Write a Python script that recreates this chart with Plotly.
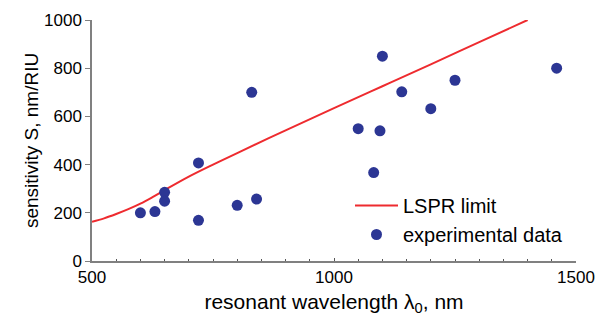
import plotly.graph_objects as go

# Experimental data (resonant wavelength, nm ; sensitivity, nm/RIU)
exp_wavelength = [600, 630, 650, 650, 720, 720, 800, 840, 830,
                  1050, 1082, 1095, 1100, 1140, 1200, 1250, 1460]
exp_sensitivity = [200, 205, 285, 248, 407, 169, 231, 257, 700,
                   549, 367, 540, 850, 702, 632, 750, 800]

# LSPR limit curve
lspr_wavelength = [500, 525, 550, 575, 600, 625, 650, 700, 750, 800,
                   900, 1000, 1100, 1200, 1300, 1400]
lspr_sensitivity = [163, 177, 195, 215, 238, 265, 294, 350, 400, 448,
                    542, 634, 725, 816, 908, 1000]

x_tick_vals = [500, 1000, 1500]
y_tick_vals = [0, 200, 400, 600, 800, 1000]

FONT = "Liberation Sans, Arial, Helvetica, sans-serif"
AXIS_COLOR = "#808080"

fig = go.Figure()
fig.add_trace(go.Scatter(
    x=lspr_wavelength, y=lspr_sensitivity, mode="lines",
    line=dict(color="#ee2b2f", width=2, shape="spline", smoothing=1.0),
    name="LSPR limit",
))
fig.add_trace(go.Scatter(
    x=exp_wavelength, y=exp_sensitivity, mode="markers",
    marker=dict(color="#2c3694", size=11),
    name="experimental data",
))

fig.update_layout(
    width=600, height=312,
    margin=dict(l=84, r=32, t=12, b=59),
    paper_bgcolor="white", plot_bgcolor="white",
    font=dict(family=FONT, color="black", size=17),
    showlegend=True,
    legend=dict(
        x=(350 - 92) / 484, y=(261 - 186) / 241,
        xanchor="left", yanchor="top",
        bgcolor="rgba(0,0,0,0)", borderwidth=0,
        font=dict(size=20, family=FONT),
        itemwidth=43, tracegroupgap=0,
    ),
    xaxis=dict(
        range=[500, 1500], tickvals=x_tick_vals,
        showgrid=False, zeroline=False,
        showline=True, linecolor=AXIS_COLOR, linewidth=1.5,
        ticks="inside", ticklen=3, tickcolor="#555", tickwidth=1,
        minor=dict(dtick=50, ticks="inside", ticklen=2, tickcolor="#555", showgrid=False),
        tickfont=dict(size=17),
        title=dict(text="resonant wavelength λ<sub>0</sub>, nm",
                   font=dict(size=21), standoff=8),
        automargin=False,
    ),
    yaxis=dict(
        range=[0, 1000], tickvals=y_tick_vals,
        showgrid=False, zeroline=False,
        showline=True, linecolor=AXIS_COLOR, linewidth=1.5,
        ticks="outside", ticklen=5, tickcolor=AXIS_COLOR, tickwidth=1,
        tickfont=dict(size=17),
        title=dict(text="sensitivity S, nm/RIU", font=dict(size=19), standoff=0),
        automargin=False,
    ),
)

fig.write_html("out.html")
